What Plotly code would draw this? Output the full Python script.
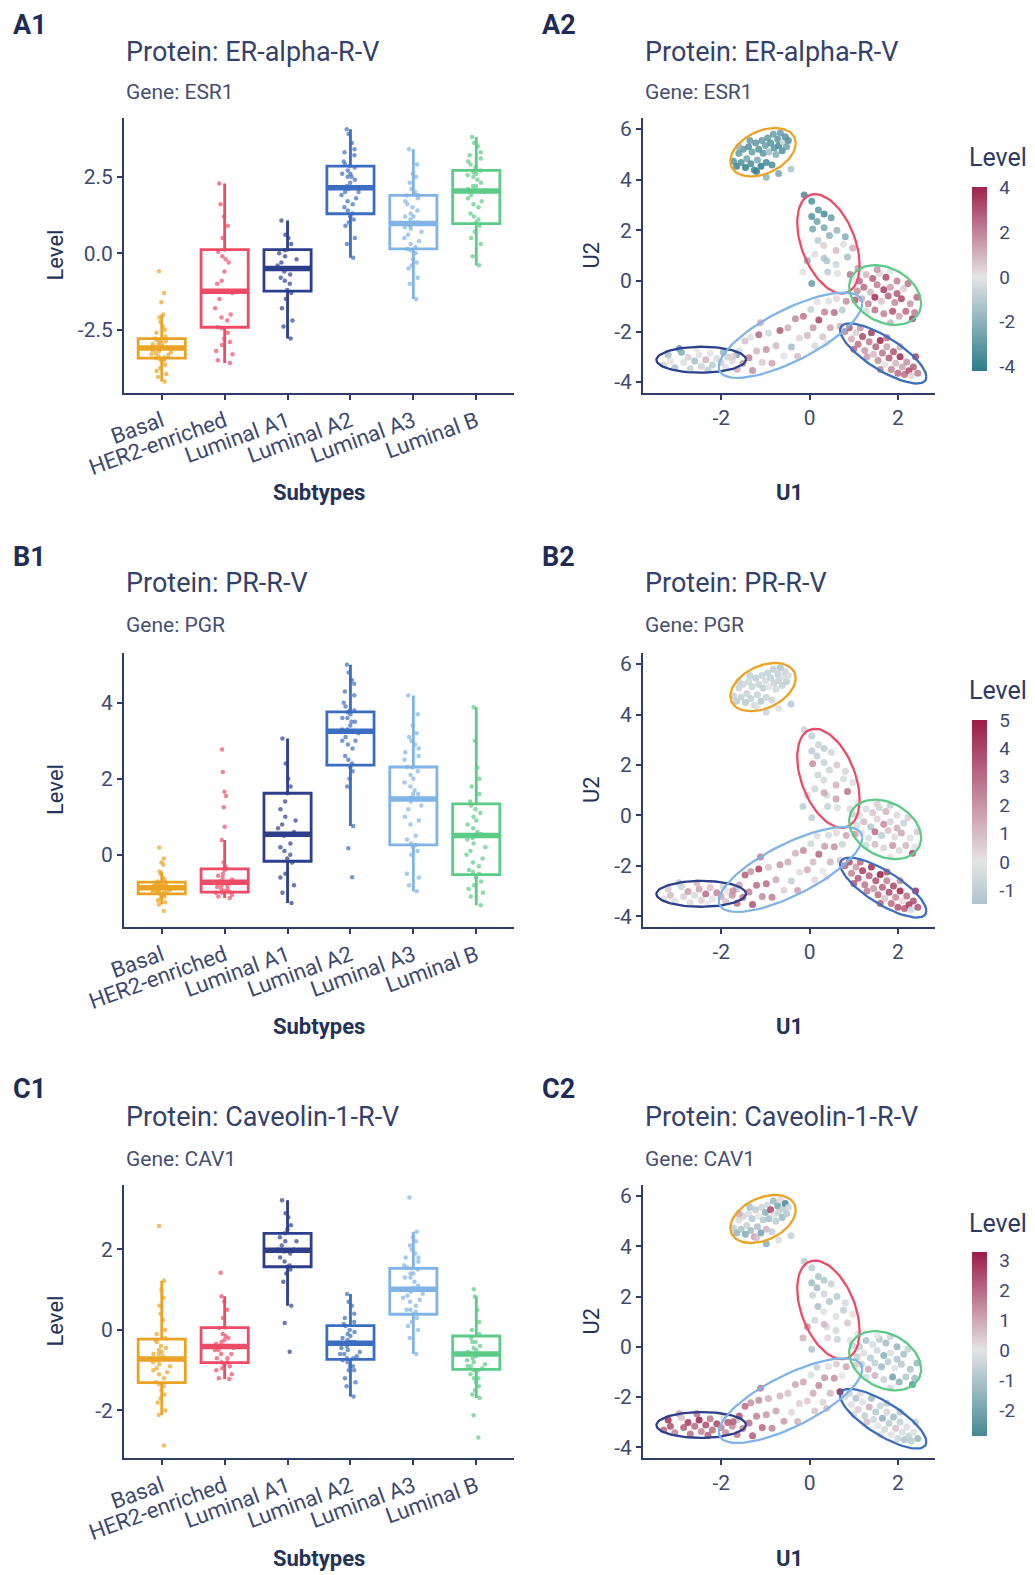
import numpy as np
import plotly.graph_objects as go

# ---------------------------------------------------------------- data
SUBTYPES = ["Basal", "HER2-enriched", "Luminal A1", "Luminal A2", "Luminal A3", "Luminal B"]
SUB_COLORS = ["#EBA325", "#EF4B66", "#2D3E8C", "#3B6DC0", "#80B4E6", "#5CCB87"]

# per-sample values (UMAP coordinates and protein levels), grouped by subtype
BASAL_U1 = [-1.72,-1.65,-1.60,-1.55,-1.50,-1.45,-1.42,-1.38,-1.33,-1.30,-1.25,-1.22,-1.18,-1.15,-1.10,-1.08,-1.05,-1.00,-0.98,-0.95,
            -0.92,-0.88,-0.85,-0.82,-0.80,-0.76,-0.72,-0.70,-0.66,-0.62,-0.60,-0.55,-0.52,-0.48,-1.35,-1.20,-0.98,-0.70,-0.42,-1.60]
BASAL_U2 = [4.73,4.53,5.05,4.68,5.20,4.48,4.83,5.30,4.63,5.10,4.38,5.45,4.78,5.20,4.53,5.55,5.05,5.35,4.68,5.65,
            5.10,5.45,4.58,5.80,5.25,5.00,5.60,5.35,5.85,5.15,5.50,5.70,5.30,5.55,5.55,4.33,4.10,4.25,4.42,5.30]
BASAL_ESR1 = [-3.2,-3.85,-2.95,-3.4,-3.05,-4.05,-2.6,-3.3,-3.55,-2.88,-3.75,-3.1,-2.4,-3.33,-4.19,-2.98,-3.13,-2.79,-3.65,-3.02,
              -1.6,-3.27,-3.45,-2.85,-3.17,-2.25,-3.08,-3.5,-2.92,-3.37,-0.59,-3.24,-2.72,-3.43,-2.82,-3.95,-2.1,-2.5,-1.3,-2.0]
BASAL_PGR = [-0.9,-1.1,-0.8,-0.95,-0.75,-1.2,-0.85,-0.7,-1.0,-0.88,-0.6,-1.05,-0.92,-0.78,-1.31,-0.83,-0.97,-0.5,-0.86,-1.02,
             -0.1,-0.93,-0.73,-1.15,-0.87,-0.65,-0.99,-0.82,-1.48,-0.9,-0.26,-0.79,-1.08,-0.44,-0.95,0.19,-0.84,-0.2,-1.25,-0.76]
BASAL_CAV1 = [-0.7,-1.5,-0.3,-1.0,0.4,-1.8,-0.6,-0.2,-1.3,-0.9,1.22,-0.75,-1.1,0.0,-2.11,-0.5,-0.85,-1.6,0.8,-0.4,
              -1.2,2.58,-0.65,-1.35,-0.1,-0.8,-2.0,-0.55,0.25,-1.4,-0.72,-2.87,-0.95,-0.45,-1.05,0.6,-1.7,-0.25,-0.6,1.0]

HER2_U1 = [-0.12,0.05,0.20,0.33,0.49,0.17,0.07,0.33,0.81,0.45,0.32,0.60,0.12,0.77,0.98,
           0.60,0.41,-0.05,-0.15,0.05,0.63,0.92,0.39,0.86,0.19,0.62,1.10,0.97,0.33,0.05]
HER2_U2 = [3.40,3.15,2.80,2.65,2.50,2.35,2.05,2.10,1.75,1.80,1.40,1.20,1.05,1.45,1.30,
           0.65,0.35,0.80,0.35,-0.10,0.30,0.25,0.80,0.95,1.60,2.00,0.50,0.05,0.90,2.55]
HER2_ESR1 = [-3.5,-3.3,-3.0,-3.59,-2.8,-2.6,-2.45,-2.42,-2.2,-2.0,0.5,0.9,-0.3,-0.2,1.2,
             -0.6,-0.9,-2.1,-0.1,-2.9,0.12,2.28,-1.24,-1.5,-1.0,-1.8,1.6,0.05,-1.3,-3.2]
HER2_PGR = [-0.9,-1.0,-0.8,-1.1,-0.7,-0.95,2.18,-0.85,-0.6,-0.75,-0.5,1.25,-0.72,-0.4,-0.3,
            1.66,-0.9,-0.65,-1.14,-0.98,-0.37,0.39,-0.55,2.77,-0.8,0.74,-0.2,-1.0,1.55,-1.05]
HER2_CAV1 = [-0.8,-0.7,-1.0,-0.9,-0.6,-1.2,-0.5,-0.45,-0.3,-0.85,0.05,-0.2,-0.4,-0.7,-0.1,
             -0.35,0.3,1.42,0.84,-0.95,-0.6,0.06,-0.25,0.5,-1.1,-0.8,-0.15,-0.5,0.7,-1.22]

LUMA1_U1 = [-3.30,-3.15,-3.05,-2.95,-2.90,-2.85,-2.75,-2.70,-2.60,-2.50,-2.45,-2.35,-2.25,-2.20,-2.10,-2.00,-1.95,-1.85,-1.75,-1.65,
            -3.20,-2.55,-2.30,-1.90]
LUMA1_U2 = [-3.32,-3.17,-3.42,-2.67,-2.82,-3.22,-3.02,-3.47,-3.17,-2.92,-3.37,-3.12,-2.87,-3.32,-3.07,-3.22,-2.82,-3.02,-3.17,-2.92,
            -2.92,-2.67,-3.52,-3.42]
LUMA1_ESR1 = [-0.5,0.1,-1.2,-2.79,-2.2,-0.3,0.5,-0.8,-1.5,0.12,-0.6,1.07,-0.1,-1.0,-0.4,0.6,-1.8,-0.7,0.3,-2.4,
              -1.3,0.0,-0.9,-0.2]
LUMA1_PGR = [0.2,1.0,-0.2,-1.27,-0.8,0.6,1.8,0.3,-0.5,1.62,0.5,3.06,0.9,-0.1,2.4,1.4,-0.6,0.1,2.0,-1.0,
             0.7,1.2,0.0,0.8]
LUMA1_CAV1 = [2.0,2.4,1.6,1.2,0.6,2.2,2.8,1.9,2.1,3.22,1.57,2.5,1.8,2.0,2.6,1.7,0.17,2.3,1.4,-0.54,
              2.9,1.95,2.2,1.5]

LUMA2_U1 = [0.80,0.95,0.90,1.05,1.10,1.20,1.25,1.35,1.40,1.45,1.50,1.55,1.60,1.65,1.70,1.75,1.80,1.85,
            1.90,1.95,2.00,2.05,2.10,2.15,2.20,2.25,2.30,2.35,2.45,1.30,1.00,2.05,1.60,2.40,1.15,1.75]
LUMA2_U2 = [-2.00,-2.30,-1.85,-2.05,-2.50,-2.20,-2.75,-2.40,-2.05,-2.90,-2.60,-3.15,-2.35,-2.85,-3.30,-2.60,-3.05,-3.50,
            -2.80,-3.25,-3.65,-3.00,-3.40,-3.70,-3.20,-3.55,-3.75,-3.40,-3.65,-3.00,-2.70,-2.60,-3.50,-3.00,-1.85,-2.25]
LUMA2_ESR1 = [2.1,1.2,2.9,0.5,2.5,3.3,1.6,2.2,3.6,0.9,2.7,1.9,4.05,2.3,-0.15,1.4,2.85,2.0,
              3.0,1.0,2.6,3.9,1.3,2.4,1.8,3.2,0.3,2.8,2.15,1.5,2.6,1.1,2.0,3.4,1.7,2.5]
LUMA2_PGR = [3.2,2.4,3.8,1.8,3.5,4.2,2.8,3.3,4.5,2.0,3.7,3.0,5.0,3.25,0.76,2.5,3.9,3.1,
             4.0,2.3,3.6,4.8,0.17,3.4,2.9,4.3,-0.59,3.8,3.6,2.6,3.5,2.2,3.3,4.6,3.0,3.75]
LUMA2_CAV1 = [-0.3,0.1,-0.6,-1.0,0.4,-0.2,-0.7,0.89,-1.2,-0.4,-0.9,0.0,-0.5,-1.65,-0.35,0.3,-0.8,-0.1,
              -1.3,0.6,-0.45,-0.65,-0.25,-1.0,0.15,-0.55,-0.75,-0.15,-1.4,0.7,-0.3,-0.9,-0.05,-0.6,0.2,-0.7]

LUMA3_U1 = [-1.73,-1.64,-1.59,-1.51,-1.46,-1.37,-1.33,-1.29,-1.20,-1.15,-1.07,-0.98,-0.93,-0.85,-0.76,-0.67,-0.58,-0.49,-0.41,-0.32,
            -0.23,-0.14,-0.05,0.03,0.08,0.17,0.21,0.30,0.34,0.43,0.47,0.56,0.61,0.69,0.74,0.83,0.39,-1.11,-0.27,0.12]
LUMA3_U2 = [-2.99,-3.49,-2.76,-3.26,-2.37,-3.04,-2.23,-3.54,-2.77,-2.13,-3.22,-2.71,-2.06,-3.25,-2.56,-1.96,-2.97,-1.85,-2.61,-1.50,
            -2.26,-1.40,-2.16,-1.13,-1.85,-0.82,-1.54,-2.21,-1.23,-0.79,-1.85,-1.25,-0.69,-1.79,-1.15,-0.80,-2.46,-1.65,-2.98,-2.56]
LUMA3_ESR1 = [0.5,1.2,-0.3,1.5,0.8,2.1,0.2,1.9,1.0,2.6,0.6,1.7,-0.5,1.3,0.9,2.9,0.1,1.1,-1.5,1.89,
              0.4,2.3,0.97,-0.8,1.6,0.14,3.4,0.7,2.0,-0.2,1.4,2.5,0.3,1.0,-1.0,1.8,0.0,1.2,0.85,-0.4]
LUMA3_PGR = [2.2,3.0,1.6,2.8,3.4,2.5,1.9,3.7,2.9,4.19,2.3,3.1,0.8,2.6,1.5,2.0,0.5,1.4,-0.96,1.3,
             0.2,2.31,1.47,-0.6,1.0,0.26,3.2,0.0,1.8,-0.5,1.2,2.1,0.4,0.9,-0.8,1.6,0.1,2.7,1.7,0.3]
LUMA3_CAV1 = [2.2,1.8,2.44,1.6,2.0,1.9,1.4,2.3,1.7,1.5,2.1,1.3,0.9,1.55,1.1,0.8,1.2,0.6,0.2,1.0,
              0.39,1.05,0.5,-0.2,0.95,-0.6,1.53,0.3,1.3,0.1,0.75,1.4,0.45,3.29,0.0,1.0,0.7,1.8,0.85,0.5]

LUMB_U1 = [1.13,1.28,1.43,1.58,1.73,1.83,1.98,1.08,1.23,1.38,1.53,1.68,1.83,1.98,2.13,2.23,1.03,1.18,
           1.33,1.48,1.63,1.78,1.93,2.08,2.28,2.43,1.28,1.48,1.68,1.88,2.03,2.18,2.33,1.83,2.38,1.53]
LUMB_U2 = [0.00,0.25,0.10,0.30,0.15,0.40,0.00,-0.40,-0.25,-0.45,-0.15,-0.35,-0.25,-0.50,-0.30,-0.10,-0.75,-0.70,
           -0.90,-0.65,-0.80,-0.60,-0.85,-0.70,-0.90,-0.65,-1.20,-1.15,-1.30,-1.20,-1.40,-1.20,-1.50,-1.65,-1.25,0.45]
LUMB_ESR1 = [2.5,1.0,2.8,0.3,3.2,-0.1,2.1,1.8,2.6,0.9,2.2,3.5,1.5,2.9,0.5,2.4,3.0,1.2,
             2.0,3.8,0.7,2.7,1.9,3.3,1.6,2.65,-0.39,2.3,2.05,3.1,1.3,2.55,3.6,1.1,2.2,1.7]
LUMB_PGR = [0.2,-0.5,0.8,-0.8,1.3,-1.0,0.4,-0.3,1.1,-1.33,0.5,2.3,-0.6,1.4,-0.9,0.6,1.8,0.0,
            -0.4,3.0,-1.1,0.9,0.3,1.6,-0.2,0.7,-0.7,1.0,0.45,2.0,-0.45,1.2,3.88,0.1,-0.1,0.55]
LUMB_CAV1 = [-0.6,-1.0,-0.3,-0.9,-1.2,-0.5,-1.5,-0.7,0.2,-0.8,-0.4,-1.69,-0.2,-0.95,-1.1,-0.55,0.5,-0.6,
             1.01,-0.65,-1.3,-0.75,-0.1,-0.85,-1.0,-1.4,-0.3,0.83,-0.6,-2.12,-1.6,-0.9,-2.67,-0.45,-1.2,0.0]

# box statistics, in SUBTYPES order
ESR1_Q1 = [-3.43, -2.42, -1.24, 1.29, 0.14, 0.97]
ESR1_MED = [-3.10, -1.24, -0.50, 2.14, 0.97, 2.03]
ESR1_Q3 = [-2.79, 0.12, 0.12, 2.85, 1.89, 2.71]
ESR1_LO = [-4.19, -3.59, -2.79, -0.15, -1.50, -0.39]
ESR1_HI = [-2.00, 2.28, 1.07, 4.05, 3.40, 3.80]

PGR_Q1 = [-1.03, -0.98, -0.17, 2.36, 0.26, -0.52]
PGR_MED = [-0.87, -0.72, 0.54, 3.25, 1.47, 0.51]
PGR_Q3 = [-0.72, -0.37, 1.62, 3.76, 2.31, 1.34]
PGR_LO = [-1.31, -1.14, -1.27, 0.76, -0.96, -1.33]
PGR_HI = [-0.44, 0.39, 3.06, 5.00, 4.19, 3.88]

CAV1_Q1 = [-1.31, -0.81, 1.57, -0.73, 0.39, -0.98]
CAV1_MED = [-0.72, -0.41, 1.98, -0.33, 1.01, -0.60]
CAV1_Q3 = [-0.23, 0.06, 2.40, 0.11, 1.53, -0.15]
CAV1_LO = [-2.11, -1.22, 0.60, -1.65, -0.60, -1.69]
CAV1_HI = [1.22, 0.84, 3.22, 0.89, 2.44, 0.83]

PROTEINS = ["ER-alpha-R-V", "PR-R-V", "Caveolin-1-R-V"]
GENES = ["ESR1", "PGR", "CAV1"]
PANEL_LABELS = [("A1", "A2"), ("B1", "B2"), ("C1", "C2")]
BOX_YTICKS = [[-2.5, 0.0, 2.5], [0, 2, 4], [-2, 0, 2]]
BAR_TICKS = [[-4, -2, 0, 2, 4], [-1, 0, 1, 2, 3, 4, 5], [-2, -1, 0, 1, 2, 3]]
UMAP_XTICKS = [-2, 0, 2]
UMAP_YTICKS = [-4, -2, 0, 2, 4, 6]

# ---------------------------------------------------------------- assemble
SAMPLES = {
    "Basal": dict(u1=BASAL_U1, u2=BASAL_U2, ESR1=BASAL_ESR1, PGR=BASAL_PGR, CAV1=BASAL_CAV1),
    "HER2-enriched": dict(u1=HER2_U1, u2=HER2_U2, ESR1=HER2_ESR1, PGR=HER2_PGR, CAV1=HER2_CAV1),
    "Luminal A1": dict(u1=LUMA1_U1, u2=LUMA1_U2, ESR1=LUMA1_ESR1, PGR=LUMA1_PGR, CAV1=LUMA1_CAV1),
    "Luminal A2": dict(u1=LUMA2_U1, u2=LUMA2_U2, ESR1=LUMA2_ESR1, PGR=LUMA2_PGR, CAV1=LUMA2_CAV1),
    "Luminal A3": dict(u1=LUMA3_U1, u2=LUMA3_U2, ESR1=LUMA3_ESR1, PGR=LUMA3_PGR, CAV1=LUMA3_CAV1),
    "Luminal B": dict(u1=LUMB_U1, u2=LUMB_U2, ESR1=LUMB_ESR1, PGR=LUMB_PGR, CAV1=LUMB_CAV1),
}
BOX_STATS = {
    "ESR1": dict(q1=ESR1_Q1, med=ESR1_MED, q3=ESR1_Q3, lo=ESR1_LO, hi=ESR1_HI),
    "PGR": dict(q1=PGR_Q1, med=PGR_MED, q3=PGR_Q3, lo=PGR_LO, hi=PGR_HI),
    "CAV1": dict(q1=CAV1_Q1, med=CAV1_MED, q3=CAV1_Q3, lo=CAV1_LO, hi=CAV1_HI),
}

# ---------------------------------------------------------------- style / layout constants
W, H = 1035, 1575
FONT = "Roboto"
AX_COL = "#2F3D66"
TICK_COL = "#3E4A6E"
TITLE_COL = "#34416A"
SUB_COL = "#46506E"
AXTITLE_COL = "#243258"
LOW_RGB = (44, 124, 137)
MID_RGB = (229, 228, 230)
HIGH_RGB = (155, 28, 68)
ELLIPSE_LEVEL = 0.90

LABEL_Y = [25, 557, 1089]
TITLE_Y = [52, 583, 1117]
SUB_Y = [92, 625, 1159]
AX_TOP = [118, 653, 1185]
AX_BOT = [393, 927, 1458]
XTITLE_Y = [493, 1026, 1558]
BAR_CY = [278.7, 812, 1344]
BAR_TITLE_Y = [157, 690, 1223]
LEFT_X = (124, 514)
RIGHT_X = (643, 935)
BOX_YRANGE = [[-4.57, 4.42], [-1.9, 5.31], [-3.18, 3.6]]
UMAP_XRANGE = [-3.77, 2.84]
UMAP_YRANGE = [-4.43, 6.44]


def fx(px):
    return px / W


def fy(py):
    return 1 - py / H


def diverging_scale(lo, hi, n=24):
    m = max(abs(lo), abs(hi))
    fr = sorted(set([k / (n - 1) for k in range(n)] + [(-lo) / (hi - lo)]))
    stops = []
    for f in fr:
        v = lo + f * (hi - lo)
        t = v / m
        tgt = LOW_RGB if t < 0 else HIGH_RGB
        a = abs(t)
        c = [MID_RGB[j] + a * (tgt[j] - MID_RGB[j]) for j in range(3)]
        stops.append([f, "rgb(%d,%d,%d)" % tuple(int(round(x)) for x in c)])
    return stops


def cov_trob(X, nu=5, maxit=100):
    n, p = X.shape
    loc = X.mean(0)
    wt = np.ones(n)
    D = X - loc
    for _ in range(maxit):
        w0 = wt
        D = X - loc
        S = (wt[:, None] * D).T @ D / wt.sum()
        Q = np.einsum("ij,jk,ik->i", D, np.linalg.inv(S), D)
        wt = (nu + p) / (nu + Q)
        loc = (wt[:, None] * X).sum(0) / wt.sum()
        if np.max(np.abs(wt - w0)) < 1e-7:
            break
    cov = (wt[:, None] * D).T @ D / n
    return loc, cov


def ellipse_path(u1, u2, level=ELLIPSE_LEVEL, segs=80):
    X = np.column_stack([u1, u2]).astype(float)
    n = X.shape[0]
    loc, cov = cov_trob(X)
    d2 = n - 1
    fq = (d2 / 2.0) * ((1 - level) ** (-2.0 / d2) - 1)
    radius = np.sqrt(2 * fq)
    L = np.linalg.cholesky(cov)
    t = np.linspace(0, 2 * np.pi, segs + 1)
    circ = np.column_stack([np.cos(t), np.sin(t)])
    pts = loc + radius * circ @ L.T
    return pts[:, 0], pts[:, 1]


def ticktext(vals):
    return [("%.1f" % v) if isinstance(v, float) else str(v) for v in vals]


def axis_style(size):
    return dict(tickfont=dict(size=size, color=TICK_COL, family=FONT),
                showline=True, linecolor=AX_COL, linewidth=2, ticks="outside", ticklen=5,
                tickwidth=1.5, tickcolor=AX_COL, showgrid=False, zeroline=False,
                automargin=False, fixedrange=True)


fig = go.Figure()
annotations = []
layout_axes = {}


def ann(text, x, y, size, color, bold=False, xanchor="left", angle=0):
    annotations.append(dict(
        text=("<b>%s</b>" % text) if bold else text, x=fx(x), y=fy(y),
        xref="paper", yref="paper", xanchor=xanchor, yanchor="middle",
        showarrow=False, textangle=angle,
        font=dict(size=size, color=color, family=FONT)))


for r in range(3):
    gene = GENES[r]
    stats = BOX_STATS[gene]
    kL, kR = 2 * r + 1, 2 * r + 2
    sL = "" if kL == 1 else str(kL)
    sR = str(kR)

    # ---------- left: boxplots
    for i, st in enumerate(SUBTYPES):
        col = SUB_COLORS[i]
        fig.add_trace(go.Box(
            x=[i], q1=[stats["q1"][i]], median=[stats["med"][i]], q3=[stats["q3"][i]],
            lowerfence=[stats["lo"][i]], upperfence=[stats["hi"][i]],
            width=0.75, whiskerwidth=0, boxpoints=False,
            fillcolor="white", line=dict(color=col, width=2.8),
            xaxis="x" + sL, yaxis="y" + sL, showlegend=False, hoverinfo="skip"))
        fig.add_trace(go.Scatter(
            x=[i - 0.375, i + 0.375], y=[stats["med"][i]] * 2, mode="lines",
            line=dict(color=col, width=5.5), xaxis="x" + sL, yaxis="y" + sL,
            showlegend=False, hoverinfo="skip"))
        vals = SAMPLES[st][gene]
        fig.add_trace(go.Box(
            x=[i] * len(vals), y=vals, boxpoints="all", jitter=0.45, pointpos=0,
            width=0.75, fillcolor="rgba(0,0,0,0)", line=dict(color="rgba(0,0,0,0)", width=0),
            marker=dict(color=col, size=4.5, opacity=0.7),
            xaxis="x" + sL, yaxis="y" + sL, showlegend=False, hoverinfo="skip"))

    layout_axes["xaxis" + sL] = dict(
        domain=[fx(LEFT_X[0]), fx(LEFT_X[1])], range=[-0.6, 5.6], anchor="y" + sL,
        tickvals=list(range(6)), ticktext=SUBTYPES, tickangle=-20, **axis_style(22))
    layout_axes["yaxis" + sL] = dict(
        domain=[fy(AX_BOT[r]), fy(AX_TOP[r])], range=BOX_YRANGE[r], anchor="x" + sL,
        tickvals=BOX_YTICKS[r], ticktext=ticktext(BOX_YTICKS[r]), **axis_style(21))

    # ---------- right: UMAP scatter
    xs, ys, cs = [], [], []
    for st in SUBTYPES:
        xs += SAMPLES[st]["u1"]
        ys += SAMPLES[st]["u2"]
        cs += SAMPLES[st][gene]
    cax = "coloraxis" + ("" if r == 0 else str(r + 1))
    fig.add_trace(go.Scatter(
        x=xs, y=ys, mode="markers",
        marker=dict(color=cs, coloraxis=cax, size=7, opacity=0.85, line=dict(width=0)),
        xaxis="x" + sR, yaxis="y" + sR, showlegend=False, hoverinfo="skip"))
    for i, st in enumerate(SUBTYPES):
        ex, ey = ellipse_path(SAMPLES[st]["u1"], SAMPLES[st]["u2"])
        fig.add_trace(go.Scatter(
            x=ex, y=ey, mode="lines", line=dict(color=SUB_COLORS[i], width=2.3),
            xaxis="x" + sR, yaxis="y" + sR, showlegend=False, hoverinfo="skip"))

    lo, hi = float(min(cs)), float(max(cs))
    layout_axes[cax] = dict(
        cmin=lo, cmax=hi, colorscale=diverging_scale(lo, hi),
        colorbar=dict(
            x=fx(972), xanchor="left", xpad=0, y=fy(BAR_CY[r]), yanchor="middle", ypad=0,
            len=184, lenmode="pixels", thickness=15, thicknessmode="pixels",
            outlinewidth=0, tickvals=BAR_TICKS[r], ticktext=[str(v) for v in BAR_TICKS[r]],
            ticks="outside", ticklen=9, tickcolor="rgba(0,0,0,0)",
            tickfont=dict(size=19, color=TICK_COL, family=FONT), title=dict(text="")))

    layout_axes["xaxis" + sR] = dict(
        domain=[fx(RIGHT_X[0]), fx(RIGHT_X[1])], range=UMAP_XRANGE, anchor="y" + sR,
        tickvals=UMAP_XTICKS, ticktext=[str(v) for v in UMAP_XTICKS], **axis_style(21))
    layout_axes["yaxis" + sR] = dict(
        domain=[fy(AX_BOT[r]), fy(AX_TOP[r])], range=UMAP_YRANGE, anchor="x" + sR,
        tickvals=UMAP_YTICKS, ticktext=[str(v) for v in UMAP_YTICKS], **axis_style(21))

    # ---------- text
    ann(PANEL_LABELS[r][0], 11, LABEL_Y[r], 27, "#1F2D55", bold=True)
    ann(PANEL_LABELS[r][1], 540, LABEL_Y[r], 27, "#1F2D55", bold=True)
    for x0 in (LEFT_X[0], RIGHT_X[0]):
        ann("Protein: " + PROTEINS[r], x0, TITLE_Y[r], 27, TITLE_COL)
        ann("Gene: " + GENES[r], x0, SUB_Y[r], 21, SUB_COL)
    midy = (AX_TOP[r] + AX_BOT[r]) / 2
    ann("Subtypes", (LEFT_X[0] + LEFT_X[1]) / 2, XTITLE_Y[r], 22, AXTITLE_COL, bold=True, xanchor="center")
    ann("Level", 55, midy, 22, AXTITLE_COL, xanchor="center", angle=-90)
    ann("U1", (RIGHT_X[0] + RIGHT_X[1]) / 2, XTITLE_Y[r], 22, AXTITLE_COL, bold=True, xanchor="center")
    ann("U2", 591, midy, 22, AXTITLE_COL, xanchor="center", angle=-90)
    ann("Level", 967, BAR_TITLE_Y[r], 25, "#2E3A62")

fig.update_layout(
    width=W, height=H, autosize=False,
    margin=dict(l=0, r=0, t=0, b=0, autoexpand=False),
    paper_bgcolor="white", plot_bgcolor="white",
    showlegend=False, boxmode="overlay",
    font=dict(family=FONT, color=TICK_COL),
    annotations=annotations,
    **layout_axes)

fig.write_html("out.html")
